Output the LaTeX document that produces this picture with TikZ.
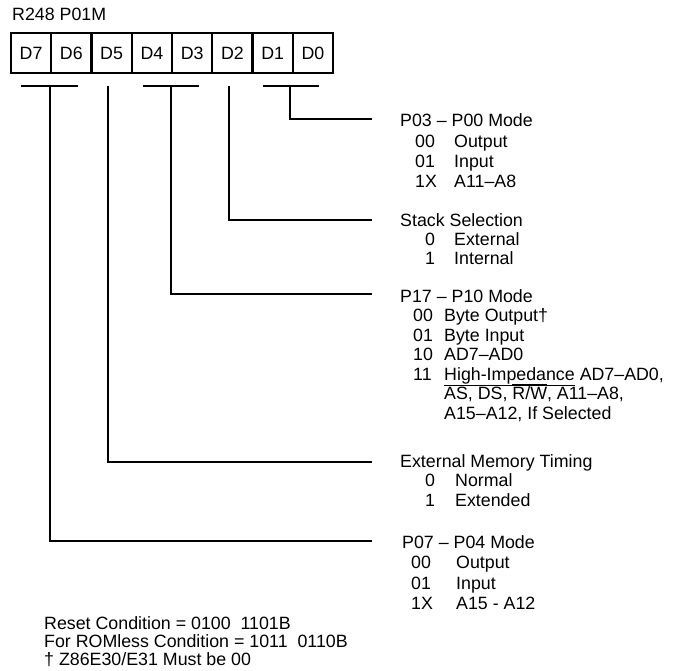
\documentclass[tikz,border=0pt]{standalone}
\usepackage{fontspec}
\setmainfont{Liberation Sans}
\newcommand{\ovl}[1]{\leavevmode\vbox{\hrule height 0.9pt\kern 1.6pt\hbox{#1}}}
\newcommand{\unl}[1]{\leavevmode\vtop{\hbox{#1}\kern 1.8pt\hrule height 0.9pt}}
\begin{document}
\begin{tikzpicture}[x=1pt,y=-1pt,
  cell/.style={draw, line width=2.2pt, minimum width=40.25pt, minimum height=40pt, inner sep=0pt, text height=12.7pt, text depth=0pt},
  bar/.style={line width=2.6pt},
  conn/.style={line width=2.2pt},
  txt/.style={anchor=base west, inner sep=0pt},
  every node/.style={font=\fontsize{17.8}{20}\selectfont}]
\useasboundingbox (0,0) rectangle (685,671);

\node[txt] (title) at (12,21) {R248 P01M};

\foreach \n [count=\i from 0] in {D7,D6,D5,D4,D3,D2,D1,D0}
  \node[cell] (\n) at ({11+40.25*(\i+0.5)},53) {\n};

% bars
\draw[bar] (21,86) -- (78,86);
\draw[bar] (143,86) -- (199,86);
\draw[bar] (263,86) -- (319,86);
\coordinate (b76) at (50,86);
\coordinate (b5) at (108,86);
\coordinate (b43) at (171,86);
\coordinate (b2) at (229,86);
\coordinate (b10) at (290,86);

% line ends
\coordinate (e03) at (372,119);
\coordinate (e2) at (372,220);
\coordinate (e17) at (372,294);
\coordinate (e5) at (372,462);
\coordinate (e07) at (372,541);

\draw[conn] (b10) |- (e03);
\draw[conn] (b2) |- (e2);
\draw[conn] (b43) |- (e17);
\draw[conn] (b5) |- (e5);
\draw[conn] (b76) |- (e07);

% P03-P00
\node[txt] (t03) at (400,127) {P03 – P00 Mode};
\node[txt] (c03a) at (415,147.5) {00};
\node[txt] (d03a) at (454,147.5) {Output};
\node[txt] (c03b) at (415,167.5) {01};
\node[txt] (d03b) at (454,167.5) {Input};
\node[txt] (c03c) at (415,188) {1X};
\node[txt] (d03c) at (454,188) {A11–A8};

% Stack
\node[txt] (t2) at (400,226) {Stack Selection};
\node[txt] (c2a) at (425,245) {0};
\node[txt] (d2a) at (454,245) {External};
\node[txt] (c2b) at (425,264) {1};
\node[txt] (d2b) at (454,264) {Internal};

% P17-P10
\node[txt] (t17) at (400,302) {P17 – P10 Mode};
\node[txt] (c17a) at (413,321.5) {00};
\node[txt] (d17a) at (444,321.5) {Byte Output†};
\node[txt] (c17b) at (413,341) {01};
\node[txt] (d17b) at (444,341) {Byte Input};
\node[txt] (c17c) at (413,360.5) {10};
\node[txt] (d17c) at (444,360.5) {AD7–AD0};
\node[txt] (c17d) at (413,380) {11};
\node[txt] (d17d) at (444,380) {\unl{High-Impedance} AD7–AD0,};
\node[txt] (d17e) at (444,399.5) {\ovl{AS}, \ovl{DS}, \ovl{R/W}, A11–A8,};
\node[txt] (d17f) at (444,419) {A15–A12, If Selected};

% External memory timing
\node[txt] (t5) at (400,467) {External Memory Timing};
\node[txt] (c5a) at (425,486.5) {0};
\node[txt] (d5a) at (455,486.5) {Normal};
\node[txt] (c5b) at (425,506) {1};
\node[txt] (d5b) at (455,506) {Extended};

% P07-P04
\node[txt] (t07) at (402,548) {P07 – P04 Mode};
\node[txt] (c07a) at (411,568.5) {00};
\node[txt] (d07a) at (456,568.5) {Output};
\node[txt] (c07b) at (411,589) {01};
\node[txt] (d07b) at (456,589) {Input};
\node[txt] (c07c) at (411,609) {1X};
\node[txt] (d07c) at (456,609) {A15 - A12};

% notes
\node[txt] (n1) at (44,629) {Reset Condition = 0100\ \ 1101B};
\node[txt] (n2) at (44,647.5) {For ROMless Condition = 1011\ \ 0110B};
\node[txt] (n3) at (44,665.5) {† Z86E30/E31 Must be 00};
\end{tikzpicture}
\end{document}
